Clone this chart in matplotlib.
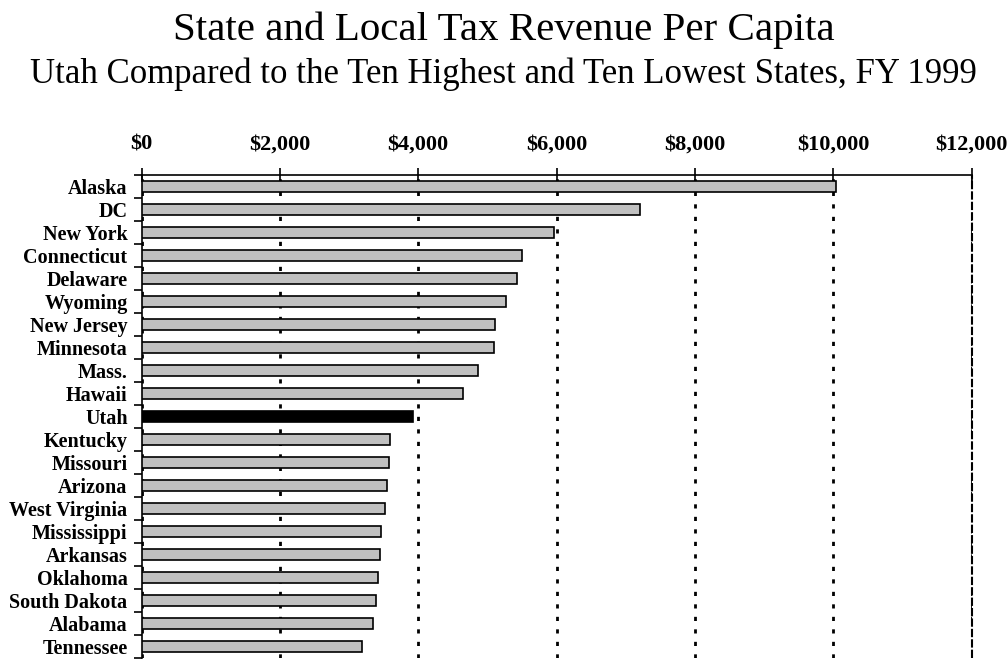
import numpy as np
import matplotlib
matplotlib.use("Agg")
import matplotlib.pyplot as plt
from matplotlib.ticker import FuncFormatter

states = ["Alaska", "DC", "New York", "Connecticut", "Delaware", "Wyoming",
          "New Jersey", "Minnesota", "Mass.", "Hawaii", "Utah", "Kentucky",
          "Missouri", "Arizona", "West Virginia", "Mississippi", "Arkansas",
          "Oklahoma", "South Dakota", "Alabama", "Tennessee"]
revenue = [10046, 7214, 5961, 5503, 5431, 5263, 5118, 5098, 4863, 4642, 3928,
           3591, 3572, 3552, 3519, 3461, 3442, 3422, 3389, 3350, 3191]
highlight = "Utah"
x_ticks = [0, 2000, 4000, 6000, 8000, 10000, 12000]

plt.rcParams['font.family'] = ['Liberation Serif', 'DejaVu Serif']

fig = plt.figure(figsize=(10.07, 6.6), dpi=100)
ax = fig.add_axes([141.5 / 1007, 1 - 658 / 660, 830 / 1007, 483 / 660])

y = np.arange(len(states))
colors = ['black' if s == highlight else '#c0c0c0' for s in states]
ax.barh(y, revenue, height=0.5, color=colors, edgecolor='black', linewidth=1.2, zorder=3)

ax.set_xlim(0, 12000)
ax.set_ylim(len(states) - 0.5, -0.5)
ax.set_xticks(x_ticks)
ax.xaxis.set_major_formatter(FuncFormatter(lambda v, p: "${:,.0f}".format(v)))
ax.xaxis.tick_top()
ax.tick_params(axis='x', direction='inout', length=10, width=1.2, pad=10,
               labelsize=16)
for lbl in ax.get_xticklabels():
    lbl.set_fontweight('bold')

ax.set_yticks(y)
ax.set_yticklabels(states, fontsize=14.5, fontweight='bold')
ax.set_yticks(np.arange(-0.5, len(states), 1.0), minor=True)
ax.tick_params(axis='y', which='major', length=0, pad=10)
ax.tick_params(axis='y', which='minor', direction='out', length=6, width=1.2)

ax.grid(axis='x', color='black', linestyle=(0, (1.5, 3)), linewidth=2, zorder=1)
ax.axvline(x_ticks[-1], color='black', linestyle=(0, (4, 1)), linewidth=1.5,
           clip_on=False, zorder=1)
ax.spines['bottom'].set_visible(False)
ax.spines['right'].set_visible(False)
ax.spines['top'].set_linewidth(1.2)
ax.spines['left'].set_linewidth(1.2)

fig.text(0.5, 1 - 40 / 660, "State and Local Tax Revenue Per Capita",
         ha='center', va='baseline', fontsize=29.5)
fig.text(0.5, 1 - 83 / 660,
         "Utah Compared to the Ten Highest and Ten Lowest States, FY 1999",
         ha='center', va='baseline', fontsize=25)

fig.savefig("out.png", dpi=100)
